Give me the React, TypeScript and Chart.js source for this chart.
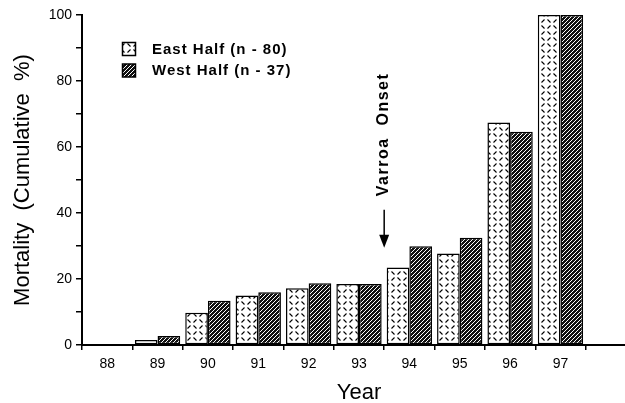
import React, { useEffect, useRef } from 'react';
import { Chart, registerables } from 'chart.js';

Chart.register(...registerables);

// ---- data ----
const years = ['88', '89', '90', '91', '92', '93', '94', '95', '96', '97', ''];
const eastHalf = [0, 1.5, 9.8, 15.0, 17.2, 18.5, 23.5, 27.7, 67.4, 100, null];
const westHalf = [0, 2.7, 13.4, 16.0, 18.7, 18.5, 29.9, 32.5, 64.6, 100, null];
const seriesLabels = ['East Half (n - 80)', 'West Half (n - 37)'];
const yLabelTicks = [0, 20, 40, 60, 80, 100];
const yTitle = 'Mortality  (Cumulative  %)';
const xTitle = 'Year';
const onsetLabel = 'Varroa  Onset';
const onsetAfterIndex = 5; // arrow between 93 and 94
const onsetArrowTop = 41;
const onsetArrowTip = 29.5;
const onsetTextCenter = 63.8;

const FONT = '"Liberation Sans", Arial, Helvetica, sans-serif';

function makeEastPattern(ctx: CanvasRenderingContext2D) {
  const c = document.createElement('canvas');
  c.width = 12;
  c.height = 12;
  const g = c.getContext('2d')!;
  g.fillStyle = '#fff';
  g.fillRect(0, 0, 12, 12);
  g.strokeStyle = '#000';
  g.lineWidth = 1.1;
  g.beginPath();
  g.moveTo(1.5, 1.5); g.lineTo(4.5, 4.5);
  g.moveTo(10.5, 1.5); g.lineTo(7.5, 4.5);
  g.moveTo(1.5, 10.5); g.lineTo(4.5, 7.5);
  g.moveTo(7.5, 7.5); g.lineTo(10.5, 10.5);
  g.stroke();
  return ctx.createPattern(c, 'repeat')!;
}

function makeWestPattern(ctx: CanvasRenderingContext2D) {
  const n = 4;
  const c = document.createElement('canvas');
  c.width = n;
  c.height = n;
  const g = c.getContext('2d')!;
  g.fillStyle = '#111';
  g.fillRect(0, 0, n, n);
  g.fillStyle = '#fff';
  for (let i = 0; i < n; i++) g.fillRect(i, n - 1 - i, 1, 1);
  return ctx.createPattern(c, 'repeat')!;
}

export default function App() {
  const ref = useRef<HTMLCanvasElement>(null);

  useEffect(() => {
    const canvas = ref.current!;
    const ctx = canvas.getContext('2d')!;
    const eastPat = makeEastPattern(ctx);
    const westPat = makeWestPattern(ctx);

    const annotate = {
      id: 'annotate',
      afterDraw(chart: any) {
        const c: CanvasRenderingContext2D = chart.ctx;
        const x = chart.scales.x;
        const y = chart.scales.y;
        const area = chart.chartArea;
        c.save();
        // Varroa onset arrow
        const bx = (x.getPixelForValue(onsetAfterIndex) + x.getPixelForValue(onsetAfterIndex + 1)) / 2;
        const yTop = y.getPixelForValue(onsetArrowTop);
        const yTip = y.getPixelForValue(onsetArrowTip);
        c.strokeStyle = '#000';
        c.fillStyle = '#000';
        c.lineWidth = 1.5;
        c.beginPath();
        c.moveTo(bx, yTop);
        c.lineTo(bx, yTip - 8);
        c.stroke();
        c.beginPath();
        c.moveTo(bx - 5, yTip - 13);
        c.lineTo(bx + 5, yTip - 13);
        c.lineTo(bx, yTip);
        c.closePath();
        c.fill();
        c.save();
        c.translate(bx - 1, y.getPixelForValue(onsetTextCenter));
        c.rotate(-Math.PI / 2);
        c.font = 'bold 16px ' + FONT;
        (c as any).letterSpacing = '1.5px';
        c.textAlign = 'center';
        c.textBaseline = 'middle';
        c.fillText(onsetLabel, 0, 0);
        c.restore();

        // legend
        const lx = area.left + 40.5;
        const rows = [
          { top: area.top + 27.5, pat: eastPat },
          { top: area.top + 49, pat: westPat },
        ];
        c.font = 'bold 15px ' + FONT;
        (c as any).letterSpacing = '1px';
        c.textAlign = 'left';
        c.textBaseline = 'alphabetic';
        rows.forEach((r, i) => {
          c.fillStyle = r.pat;
          c.fillRect(lx, r.top, 13, 13);
          c.lineWidth = 1.5;
          c.strokeStyle = '#000';
          c.strokeRect(lx, r.top, 13, 13);
          c.fillStyle = '#000';
          c.fillText(seriesLabels[i], lx + 29.5, r.top + 11);
        });
        c.restore();
      },
    };

    const chart = new Chart(canvas, {
      type: 'bar',
      data: {
        labels: years,
        datasets: [
          {
            label: seriesLabels[0],
            data: eastHalf,
            backgroundColor: eastPat as any,
            borderColor: '#000',
            borderWidth: 1.5,
            borderSkipped: false,
            categoryPercentage: 0.9,
            barPercentage: 1.0,
          },
          {
            label: seriesLabels[1],
            data: westHalf,
            backgroundColor: westPat as any,
            borderColor: '#000',
            borderWidth: 1.5,
            borderSkipped: false,
            categoryPercentage: 0.9,
            barPercentage: 1.0,
          },
        ],
      },
      options: {
        animation: false,
        responsive: false,
        layout: { padding: { top: 15, left: 0, right: 0, bottom: 0 } },
        plugins: {
          legend: { display: false },
          tooltip: { enabled: false },
        },
        scales: {
          x: {
            grid: {
              display: true,
              drawOnChartArea: false,
              drawTicks: true,
              tickLength: 5,
              color: '#000',
              lineWidth: 1.5,
              offset: true,
            },
            border: { display: true, color: '#000', width: 2 },
            ticks: {
              color: '#000',
              font: { family: FONT, size: 14 },
              padding: 6,
              maxRotation: 0,
              autoSkip: false,
            },
            title: {
              display: true,
              text: xTitle,
              color: '#000',
              font: { family: FONT, size: 22, lineHeight: 0.9 },
              padding: { top: 0, bottom: 0 },
            },
            afterFit(scale: any) {
              scale.height = 58;
            },
          },
          y: {
            min: 0,
            max: 100,
            grid: {
              display: true,
              drawOnChartArea: false,
              drawTicks: true,
              tickLength: 6,
              color: '#000',
              lineWidth: 1.5,
            },
            border: { display: true, color: '#000', width: 2 },
            ticks: {
              stepSize: 10,
              color: '#000',
              font: { family: FONT, size: 14 },
              padding: 4,
              callback: (v: any) => (yLabelTicks.includes(Number(v)) ? String(v) : ''),
            },
            title: {
              display: true,
              text: yTitle,
              color: '#000',
              font: { family: FONT, size: 22 },
              padding: { top: 10, bottom: 0 },
            },
            afterFit(scale: any) {
              scale.width = 82;
            },
          },
        },
      },
      plugins: [annotate],
    });
    return () => chart.destroy();
  }, []);

  return (
    <div style={{ position: 'fixed', left: 0, top: 0, width: 636, height: 403, background: '#fff' }}>
      <canvas ref={ref} width={636} height={403} style={{ display: 'block' }} />
    </div>
  );
}
